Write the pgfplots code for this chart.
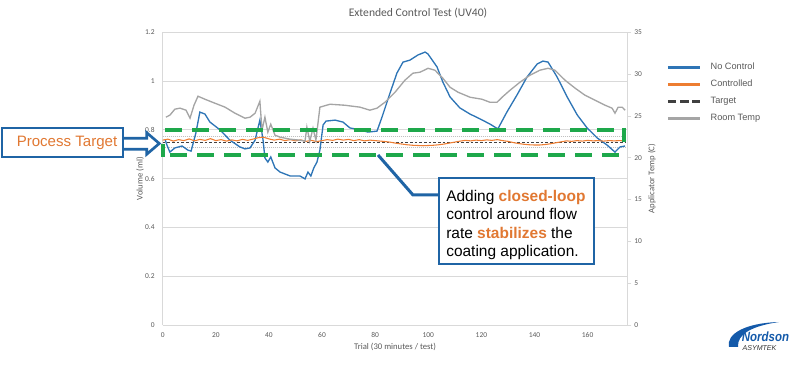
\documentclass[border=0pt]{standalone}
\usepackage{pgfplots}
\usepackage{pgfplotstable}
\pgfplotsset{compat=1.18}
\usepackage{fontspec}
\setmainfont{Carlito}
\newfontfamily\arialfont{Liberation Sans}
\definecolor{nocontrol}{RGB}{46,117,182}
\definecolor{controlled}{RGB}{237,125,49}
\definecolor{roomtemp}{RGB}{165,165,165}
\definecolor{targetc}{RGB}{64,64,64}
\definecolor{gridc}{RGB}{217,217,217}
\definecolor{textc}{RGB}{89,89,89}
\definecolor{annblue}{RGB}{31,100,165}
\definecolor{annorange}{RGB}{225,120,50}
\definecolor{greenbox}{RGB}{30,168,75}
\definecolor{logoblue}{RGB}{20,90,170}

\pgfplotstableread{
x v
1 0.758
1.6 0.738
2.7 0.709
4.6 0.726
7.3 0.734
9.5 0.717
10.7 0.713
12.5 0.787
14.0 0.873
15.9 0.865
17.8 0.832
21.6 0.800
25.3 0.758
29.1 0.730
31.0 0.722
32.9 0.726
34.8 0.758
36.6 0.840
37.8 0.758
38.5 0.685
39.6 0.668
40.7 0.689
42.3 0.644
44.2 0.627
48.0 0.611
51.7 0.611
53.6 0.599
54.7 0.627
55.8 0.611
56.9 0.644
58.1 0.668
59.2 0.717
60.4 0.820
61.5 0.836
64.9 0.840
67.9 0.832
70.5 0.808
74.3 0.800
77.3 0.791
80.7 0.795
82.6 0.853
85.6 0.951
88.2 1.033
90.5 1.078
93.1 1.086
96.1 1.107
98.8 1.119
99.9 1.111
103.3 1.058
105.5 0.996
108.2 0.935
111.9 0.890
115.7 0.865
119.5 0.845
123.2 0.824
126.2 0.804
129.6 0.873
133.4 0.943
137.2 1.017
141.0 1.070
143.2 1.082
145.1 1.078
148.5 1.017
152.3 0.935
156.1 0.861
159.8 0.808
163.6 0.767
167.3 0.738
170.3 0.709
172.2 0.730
174.1 0.734
}\nocontroltable

\pgfplotstableread{
x v
0 0.758
2 0.762
4 0.754
6 0.760
8 0.756
10 0.763
12 0.755
14 0.761
16 0.757
18 0.764
20 0.756
22 0.760
24 0.754
26 0.759
28 0.755
30 0.761
32 0.757
34 0.762
36 0.768
38 0.770
40 0.763
42 0.758
44 0.762
46 0.756
48 0.760
50 0.755
52 0.759
54 0.753
56 0.757
58 0.752
60 0.756
62 0.760
64 0.757
66 0.762
68 0.758
70 0.761
72 0.756
74 0.760
76 0.755
78 0.758
80 0.756
82 0.754
84 0.752
86 0.749
88 0.745
90 0.742
92 0.739
94 0.737
96 0.736
98 0.735
100 0.736
102 0.737
104 0.739
106 0.742
108 0.746
110 0.750
112 0.754
114 0.757
116 0.755
118 0.758
120 0.756
122 0.759
124 0.757
126 0.760
128 0.756
130 0.753
132 0.748
134 0.744
136 0.741
138 0.739
140 0.738
142 0.738
144 0.740
146 0.743
148 0.747
150 0.751
152 0.755
154 0.753
156 0.756
158 0.754
160 0.757
162 0.755
164 0.756
166 0.754
168 0.756
170 0.755
172 0.756
174 0.755
}\controlledtable

\pgfplotstableread{
x t
1.2 24.85
2.7 25.09
4.6 25.81
6.5 25.93
8.8 25.69
10.3 24.73
11.8 26.28
13.3 27.36
15.9 27.00
19.7 26.52
23.5 26.05
27.2 25.33
31.0 24.73
32.9 24.85
34.8 25.33
36.6 26.76
37.4 23.30
38.5 24.85
39.6 23.06
40.7 24.01
42.3 22.70
44.2 22.46
48.0 22.22
51.7 22.10
53.6 21.98
54.3 23.66
55.4 21.98
56.6 23.54
57.7 22.10
59.2 26.05
63.0 26.40
68.6 26.28
74.3 26.05
78.0 25.69
80.7 25.93
83.7 26.64
87.5 27.84
91.2 29.27
94.2 30.11
96.9 30.23
99.9 30.70
102.5 30.47
105.5 29.51
108.2 28.43
111.2 27.84
115.7 27.24
120.2 27.00
123.2 26.64
125.9 26.64
127.8 27.24
130.8 28.08
134.5 29.03
138.3 29.87
142.0 30.47
145.1 30.70
147.7 30.47
151.5 29.27
155.3 28.32
159.0 27.48
162.8 26.88
166.6 26.28
169.2 25.93
170.3 25.33
171.5 26.05
173.0 26.05
174.1 25.69
}\roomtable

\begin{document}
\begin{tikzpicture}
\path[use as bounding box] (0pt,0pt) rectangle (600pt,277.5pt);
\begin{axis}[
  at={(122.0pt,33.75pt)}, anchor=south west,
  scale only axis, width=348.6pt, height=219.5pt,
  xmin=0, xmax=175, ymin=0, ymax=1.2,
  xtick={0,20,40,60,80,100,120,140,160},
  ytick={0,0.2,0.4,0.6,0.8,1,1.2},
  separate axis lines,
  axis x line*=bottom, axis y line*=left,
  x axis line style={-, draw=gridc, line width=0.6pt},
  y axis line style={-, draw=gridc, line width=0.6pt},
  ymajorgrids, grid style={draw=gridc, line width=0.6pt},
  tick style={draw=none},
  /pgf/number format/assume math mode=true,
  ticklabel style={font=\fontsize{5.6pt}{6.5pt}\selectfont, text=textc},
  yticklabel style={inner sep=0pt, anchor=east, xshift=-5.8pt},
  xticklabel style={inner sep=0pt, anchor=north, yshift=-5.6pt},
  xlabel={Trial (30 minutes / test)},
  ylabel={Volume (ml)},
  label style={font=\fontsize{6.5pt}{7.5pt}\selectfont, text=textc},
  xlabel style={at={(axis description cs:0.5,-0.0752)}, anchor=center},
  ylabel style={at={(axis description cs:-0.0488,0.5)}, anchor=center},
]
\addplot[roomtemp!70, line width=0.5pt, dash pattern=on 0.6pt off 0.9pt] coordinates {(0,0.7725) (174,0.7725)};
\addplot[roomtemp!70, line width=0.5pt, dash pattern=on 0.6pt off 0.9pt] coordinates {(0,0.7275) (174,0.7275)};
\addplot[targetc, line width=0.6pt, dash pattern=on 2pt off 1.5pt] coordinates {(0,0.75) (174,0.75)};
\addplot[nocontrol, line width=1pt] table[x=x,y=v] {\nocontroltable};
\addplot[controlled, line width=0.8pt] table[x=x,y=v] {\controlledtable};
\end{axis}
\begin{axis}[
  at={(122.0pt,33.75pt)}, anchor=south west,
  scale only axis, width=348.6pt, height=219.5pt,
  xmin=0, xmax=175, ymin=0, ymax=35,
  axis x line=none,
  axis y line*=right,
  y axis line style={-, draw=gridc, line width=0.6pt},
  ytick={0,5,10,15,20,25,30,35},
  tick align=outside, major tick length=3pt,
  ytick style={draw=gridc, line width=0.6pt},
  /pgf/number format/assume math mode=true,
  ticklabel style={font=\fontsize{5.6pt}{6.5pt}\selectfont, text=textc},
  yticklabel style={inner sep=0pt, anchor=west, xshift=1.9pt},
  ylabel={Applicator Temp (C)},
  label style={font=\fontsize{6.5pt}{7.5pt}\selectfont, text=textc},
  ylabel style={at={(axis description cs:1.0527,0.5)}, anchor=center},
  legend style={at={(axis description cs:1.083,0.905)}, anchor=north west,
    draw=none, fill=none, inner sep=0pt,
    font=\arialfont\fontsize{6.9pt}{8pt}\selectfont, text=textc,
    row sep=2.4pt,
    /tikz/every odd column/.append style={column sep=5pt}},
  legend cell align=left,
  legend image code/.code={\draw[#1] (0pt,0pt) -- (24pt,0pt);},
]
\addlegendimage{nocontrol, line width=2.25pt}
\addlegendentry{No Control}
\addlegendimage{controlled, line width=2.25pt}
\addlegendentry{Controlled}
\addlegendimage{targetc, line width=2.25pt, dash pattern=on 6.4pt off 2.8pt}
\addlegendentry{Target}
\addlegendimage{roomtemp, line width=2.25pt}
\addlegendentry{Room Temp}
\addplot[roomtemp, line width=1pt, forget plot] table[x=x,y=t] {\roomtable};
\end{axis}

\begin{scope}[x=0.75pt, y=-0.75pt, shift={(0pt,277.5pt)}]
  % title
  \node[text=textc, font=\fontsize{8.7pt}{10pt}\selectfont] at (418,13) {Extended Control Test (UV40)};
  % green target band
  \draw[greenbox, line width=3pt, dash pattern=on 12.75pt off 7.5pt] (165,130) -- (624,130);
  \draw[greenbox, line width=3pt, dash pattern=on 12.75pt off 7.5pt] (170,155) -- (624,155);
  \draw[greenbox, line width=3pt] (163,144) -- (163,157);
  \draw[greenbox, line width=3pt] (624,128) -- (624,142);
  % Process Target callout
  \draw[annblue, line width=2pt, fill=white, line join=miter]
     (123,138.3) -- (146.7,138.3) -- (146.7,132.7) -- (159.3,143.5) -- (146.7,154.3) -- (146.7,149.3) -- (123,149.3);
  \draw[annblue, line width=2pt, fill=white] (2,128) rectangle (123,157);
  \node[text=annorange, font=\arialfont\fontsize{11.3pt}{13pt}\selectfont] at (67,142.5) {Process Target};
  % pointer + text box
  \draw[annblue, line width=2.25pt, line join=miter] (378,155) -- (413,195) -- (439,195);
  \draw[annblue, line width=2pt, fill=white] (439,178) rectangle (594,264);
  \begin{scope}[every node/.style={anchor=base west, inner sep=0pt, text=black, font=\arialfont\fontsize{11.6pt}{13pt}\selectfont}]
    \node at (446,201.7) {Adding \textcolor{annorange}{\bfseries closed-loop}};
    \node at (446,220) {control around flow};
    \node at (446,238.4) {rate \textcolor{annorange}{\bfseries stabilizes} the};
    \node at (446,256.8) {coating application.};
  \end{scope}
  % logo
  \fill[logoblue] (729,347) .. controls (726,334) and (745,323) .. (779,322)
        .. controls (752,326) and (737,334) .. (738,347) -- cycle;
  \node[text=logoblue, font=\arialfont\bfseries\itshape\fontsize{10pt}{12pt}\selectfont, xscale=0.86, inner sep=0pt] at (765.5,337) {Nordson};
  \node[text=black!80, font=\arialfont\itshape\fontsize{5.3pt}{6pt}\selectfont, inner sep=0pt] at (759.5,348) {ASYMTEK};
\end{scope}
\end{tikzpicture}
\end{document}
